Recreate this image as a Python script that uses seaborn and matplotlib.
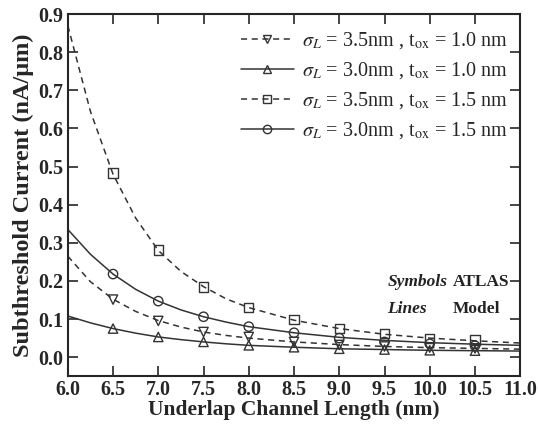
import seaborn as sns
import pandas as pd
import matplotlib.pyplot as plt
from matplotlib.lines import Line2D

# Model curves (lines)
x_model = [6.0, 6.25, 6.5, 6.75, 7.0, 7.25, 7.5, 7.75, 8.0, 8.5, 9.0, 9.5, 10.0, 10.5, 11.0]
m_35_10 = [0.265, 0.198, 0.152, 0.120, 0.096, 0.079, 0.066, 0.057, 0.050, 0.040, 0.033, 0.028, 0.025, 0.023, 0.021]
m_30_10 = [0.108, 0.090, 0.075, 0.063, 0.053, 0.046, 0.040, 0.035, 0.031, 0.026, 0.022, 0.020, 0.018, 0.017, 0.016]
m_35_15 = [0.870, 0.645, 0.480, 0.365, 0.280, 0.225, 0.185, 0.153, 0.130, 0.097, 0.075, 0.060, 0.050, 0.043, 0.037]
m_30_15 = [0.335, 0.270, 0.218, 0.178, 0.147, 0.124, 0.106, 0.092, 0.080, 0.064, 0.052, 0.044, 0.038, 0.034, 0.031]

# ATLAS points (symbols)
x_atlas = [6.5, 7.0, 7.5, 8.0, 8.5, 9.0, 9.5, 10.0, 10.5]
a_35_10 = [0.151, 0.095, 0.066, 0.053, 0.040, 0.032, 0.028, 0.025, 0.023]
a_30_10 = [0.075, 0.053, 0.040, 0.031, 0.026, 0.022, 0.020, 0.018, 0.017]
a_35_15 = [0.483, 0.281, 0.184, 0.130, 0.099, 0.075, 0.062, 0.049, 0.045]
a_30_15 = [0.218, 0.147, 0.106, 0.080, 0.064, 0.050, 0.040, 0.035, 0.030]

labels = [r'$\sigma_L$ = 3.5nm , t$_{\rm ox}$ = 1.0 nm',
          r'$\sigma_L$ = 3.0nm , t$_{\rm ox}$ = 1.0 nm',
          r'$\sigma_L$ = 3.5nm , t$_{\rm ox}$ = 1.5 nm',
          r'$\sigma_L$ = 3.0nm , t$_{\rm ox}$ = 1.5 nm']
markers = ['v', '^', 's', 'o']
dashed = (0, (4, 3))
styles = [dashed, '-', dashed, '-']

model = pd.concat([pd.DataFrame({'x': x_model, 'y': v, 'case': lab})
                   for v, lab in zip([m_35_10, m_30_10, m_35_15, m_30_15], labels)])
atlas = pd.concat([pd.DataFrame({'x': x_atlas, 'y': v, 'case': lab})
                   for v, lab in zip([a_35_10, a_30_10, a_35_15, a_30_15], labels)])

sns.set_style('ticks')
plt.rcParams['font.family'] = ['Liberation Serif', 'DejaVu Serif']
plt.rcParams['mathtext.fontset'] = 'stix'

fig = plt.figure(figsize=(5.38, 4.28), dpi=100)
ax = fig.add_axes([0.126, 0.121, 0.841, 0.846])

for lab, ls, mk in zip(labels, styles, markers):
    sub = model[model['case'] == lab]
    sns.lineplot(data=sub, x='x', y='y', ax=ax, color='#333333', lw=1.1,
                 linestyle=ls, legend=False)
    pts = atlas[atlas['case'] == lab]
    sns.scatterplot(data=pts, x='x', y='y', ax=ax, marker=mk, s=45,
                    facecolor='none', edgecolor='#333333', linewidth=1.0,
                    legend=False, zorder=3)

ax.set_xlim(6.0, 11.0)
ax.set_ylim(-0.05, 0.9)
ax.set_xticks([6.0, 6.5, 7.0, 7.5, 8.0, 8.5, 9.0, 9.5, 10.0, 10.5, 11.0])
ax.set_yticks([0.0, 0.1, 0.2, 0.3, 0.4, 0.5, 0.6, 0.7, 0.8, 0.9])
ax.xaxis.set_major_formatter(plt.FormatStrFormatter('%.1f'))
ax.yaxis.set_major_formatter(plt.FormatStrFormatter('%.1f'))
ax.tick_params(direction='in', top=True, right=True, length=7, width=1.2,
               labelsize=14.5, pad=3)
for t in ax.get_xticklabels() + ax.get_yticklabels():
    t.set_fontweight('bold')
for sp in ax.spines.values():
    sp.set_linewidth(1.5)

ax.set_xlabel('Underlap Channel Length (nm)', fontsize=15.5, fontweight='bold', labelpad=0)
ax.set_ylabel('Subthreshold Current (nA/\u03bcm)', fontsize=17.5, fontweight='bold', labelpad=3)

handles = [Line2D([], [], color='#333333', lw=1.1, linestyle=ls, marker=mk,
                  markerfacecolor='none', markeredgecolor='#333333', markersize=6)
           for ls, mk in zip(styles, markers)]
ax.legend(handles, labels, loc='upper right', frameon=False, fontsize=14.5,
          handlelength=2.6, handletextpad=0.4, labelspacing=0.45,
          borderaxespad=0, bbox_to_anchor=(0.99, 0.977))

ax.text(9.53, 0.198, 'Symbols', fontsize=12.5, style='italic', fontweight='semibold', color='#222222', ha='left', va='center')
ax.text(10.25, 0.198, 'ATLAS', fontsize=12.5, fontweight='semibold', color='#222222', ha='left', va='center')
ax.text(9.53, 0.127, 'Lines', fontsize=12.5, style='italic', fontweight='semibold', color='#222222', ha='left', va='center')
ax.text(10.25, 0.127, 'Model', fontsize=12.5, fontweight='semibold', color='#222222', ha='left', va='center')

fig.savefig('out.png', dpi=100)
